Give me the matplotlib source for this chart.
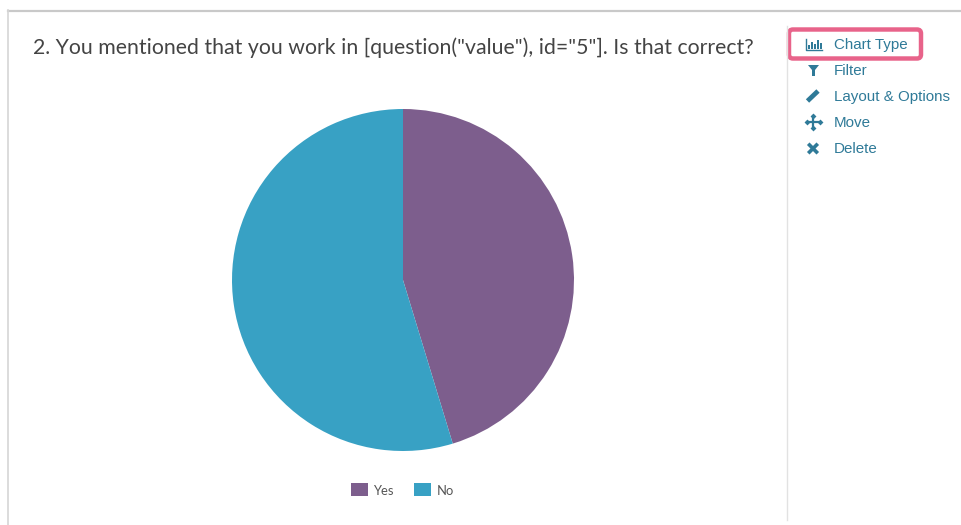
import matplotlib
matplotlib.use("Agg")
import matplotlib.pyplot as plt
from matplotlib.patches import FancyBboxPatch, Rectangle

# data
labels = ["Yes", "No"]
values = [45.3, 54.7]
colors = ["#7D5E8D", "#38A1C4"]
menu_items = ["Chart Type", "Filter", "Layout & Options", "Move", "Delete"]
menu_y = [45, 71, 97, 123, 149]
menu_color = "#2F7A98"

fig = plt.figure(figsize=(9.62, 5.25), dpi=100)

# background axes in pixel coordinates for the page bits
bg = fig.add_axes([0, 0, 1, 1])
bg.set_xlim(0, 962)
bg.set_ylim(525, 0)
bg.axis("off")

# panel edges
bg.plot([8, 962], [10.5, 10.5], color="#C9C9C9", lw=1.6)
bg.plot([8.5, 8.5], [10, 525], color="#D6D6D6", lw=1.2)
bg.plot([787.5, 787.5], [26, 520], color="#E2E2E2", lw=1)

bg.text(33, 48, '2. You mentioned that you work in [question("value"), id="5"]. Is that correct?',
        fontsize=15.3, family="Lato", color="#444444", va="center", ha="left")

# side menu
for item, y in zip(menu_items, menu_y):
    bg.text(834, y, item, fontsize=10.9, family="Liberation Sans", color=menu_color, va="center", ha="left")

# highlight around Chart Type
bg.add_patch(FancyBboxPatch((789, 29.5), 132, 29, boxstyle="round,pad=0,rounding_size=4",
                            fill=False, ec="#E8638A", lw=3.2))

# chart type icon
bg.plot([806, 806, 822], [39, 49.5, 49.5], color=menu_color, lw=1)
for x, h in zip([809, 812, 815, 818, 821], [4, 7, 5, 9, 6]):
    bg.add_patch(Rectangle((x - 0.8, 48.5 - h), 1.6, h, color=menu_color, lw=0))
# filter icon
bg.fill([808, 819, 815, 815, 812, 812], [65, 65, 70, 76, 76, 70], color=menu_color, lw=0)
# pencil icon
bg.plot([807.5, 818], [101, 91], color=menu_color, lw=3.4, solid_capstyle="butt")
# move icon
bg.plot([807, 820], [122, 122], color=menu_color, lw=1.6)
bg.plot([813.5, 813.5], [116, 128], color=menu_color, lw=1.6)
bg.scatter([807, 820, 813.5, 813.5], [122, 122, 116, 128], marker="D", s=9, color=menu_color, lw=0)
# delete icon
bg.plot([809.5, 816.5], [145, 152], color=menu_color, lw=2.6)
bg.plot([809.5, 816.5], [152, 145], color=menu_color, lw=2.6)

# pie, centre (403, 280), radius 171 px
ax = fig.add_axes([(403 - 172) / 962, 1 - (280 + 172) / 525, 344 / 962, 344 / 525])
ax.pie(values, colors=colors, startangle=90, counterclock=False, radius=171 / 172,
       wedgeprops={"linewidth": 0})
ax.set_xlim(-1, 1)
ax.set_ylim(-1, 1)

# legend
for label, color, sx in zip(labels, colors, [351, 414.5]):
    bg.add_patch(Rectangle((sx, 483), 17, 13, color=color, lw=0))
    bg.text(sx + 22, 491, label, fontsize=9.4, family="Lato", color="#555555", va="center", ha="left")

fig.savefig("out.png", dpi=100)
